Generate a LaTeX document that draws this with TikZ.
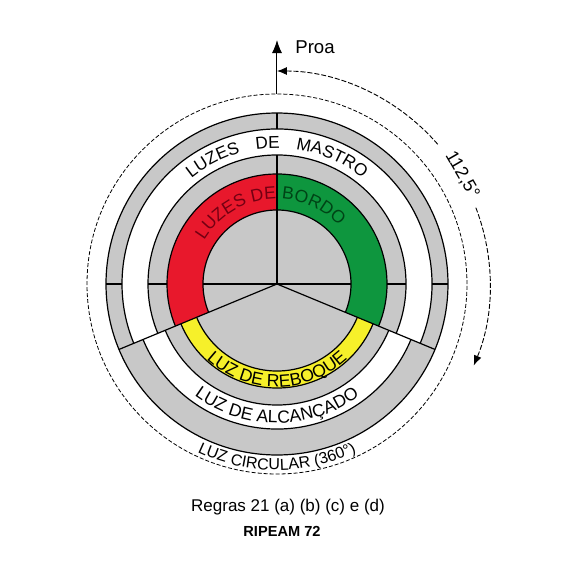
\documentclass[tikz,border=0pt]{standalone}
\usepackage{fontspec}
\setmainfont{Liberation Sans}
\usetikzlibrary{arrows.meta,decorations.text}

\definecolor{ringgray}{RGB}{200,200,200}
\definecolor{portred}{RGB}{232,24,44}
\definecolor{stbdgreen}{RGB}{14,150,62}
\definecolor{towyellow}{RGB}{246,240,42}
\definecolor{portdark}{RGB}{115,0,18}
\definecolor{stbddark}{RGB}{0,68,22}

\newcommand\mastfont{\fontsize{8.6}{10}\selectfont}
\newcommand\bordofont{\fontsize{8.8}{10}\selectfont}
\newcommand\sternfont{\fontsize{8.8}{10}\selectfont}
\newcommand\roundfont{\fontsize{8}{10}\selectfont}

\tikzset{
  ring/.style={line width=0.6pt},
  rim/.style={line width=0.4pt, dash pattern=on 2pt off 1pt},
  sweep/.style={line width=0.45pt, dash pattern=on 2.5pt off 1pt},
  tip/.style={-{Latex[length=5pt,width=4pt]}},
}

\begin{document}
\begin{tikzpicture}[x=0.5pt, y=0.5pt]
    \useasboundingbox (-277,-286) rectangle (293,284);

    \fill [ringgray] (0,0) circle [radius=171];% base disc
    \fill [white] (-22.5:155) arc [start angle=-22.5, end angle=202.5, radius=155]
      -- (202.5:129) arc [start angle=202.5, end angle=-22.5, radius=129] -- cycle;% masthead ring
    \fill [white] (202.5:145) arc [start angle=202.5, end angle=337.5, radius=145]
      -- (337.5:121) arc [start angle=337.5, end angle=202.5, radius=121] -- cycle;% sternlight ring
    \fill [portred] (90:110) arc [start angle=90, end angle=202.5, radius=110]
      -- (202.5:74) arc [start angle=202.5, end angle=90, radius=74] -- cycle;
    \fill [stbdgreen] (-22.5:110) arc [start angle=-22.5, end angle=90, radius=110]
      -- (90:74) arc [start angle=90, end angle=-22.5, radius=74] -- cycle;
    \fill [towyellow] (202.5:104) arc [start angle=202.5, end angle=337.5, radius=104]
      -- (337.5:87) arc [start angle=337.5, end angle=202.5, radius=87] -- cycle;

    \draw [ring] (0,0) circle [radius=171];
    \foreach \r in {155,129,110,74}
      \draw [ring] (-22.5:\r) arc [start angle=-22.5, end angle=202.5, radius=\r];
    \foreach \r in {145,121,104,87}
      \draw [ring] (202.5:\r) arc [start angle=202.5, end angle=337.5, radius=\r];
    \draw [ring] (0,0) -- (202.5:171) (0,0) -- (-22.5:171);% stern sector limits
    \foreach \a in {0,90,180}
      \draw [ring] (0,0) -- (\a:74) (\a:110) -- (\a:129) (\a:155) -- (\a:171);
    \draw [ring] (90:74) -- (90:110);% red / green

    \draw [rim] (0,0) circle [radius=190];

    % bow
    \coordinate (bow) at (90:190);
    \coordinate (bowtip) at (90:244);
    \draw [line width=0.5pt, -{Latex[length=6.5pt,width=5pt]}] (bow) -- (bowtip);
    \node [anchor=west, inner sep=0] (proa) at (18,237) {\fontsize{9.3}{11}\selectfont Proa};

    % 112,5 sweep
    \draw [sweep, tip] (41:213) arc [start angle=41, end angle=90, radius=213];
    \draw [sweep, tip] (21:213) arc [start angle=21, end angle=-22.5, radius=213];
    \node [rotate=-60, inner sep=1pt] (sweeplabel) at (30.5:215) {\fontsize{9}{11}\selectfont 112,5°};

    % labels on the rings
    \path [decorate, decoration={text along path, text align={fit to path stretching spaces},
      text={|\mastfont|LUZES DE MASTRO}}] (129:136) arc [start angle=129, end angle=51, radius=136];
    \path [decorate, decoration={text along path, text align={fit to path},
      text={|\bordofont\color{portdark}|LUZES DE |\bordofont\color{stbddark}|BORDO}}]
      (149:85) arc [start angle=149, end angle=43, radius=85];
    \path [decorate, decoration={text along path, text align=center,
      text={|\sternfont|LUZ DE REBOQUE}}] (200:103) arc [start angle=200, end angle=340, radius=103];
    \path [decorate, decoration={text along path, text align=center,
      text={|\sternfont|LUZ DE ALCANÇADO}}] (200:139) arc [start angle=200, end angle=340, radius=139];
    \path [decorate, decoration={text along path, text align=center,
      text={|\roundfont|LUZ CIRCULAR (360°)}}] (220:186) arc [start angle=220, end angle=320, radius=186];

    \node (rules) at (11,-223) {\fontsize{8.5}{10}\selectfont Regras 21 (a) (b) (c) e (d)};
    \node (ripeam) at (5,-247) {\fontsize{7.3}{9}\selectfont\bfseries RIPEAM 72};
  \end{tikzpicture}
\end{document}
